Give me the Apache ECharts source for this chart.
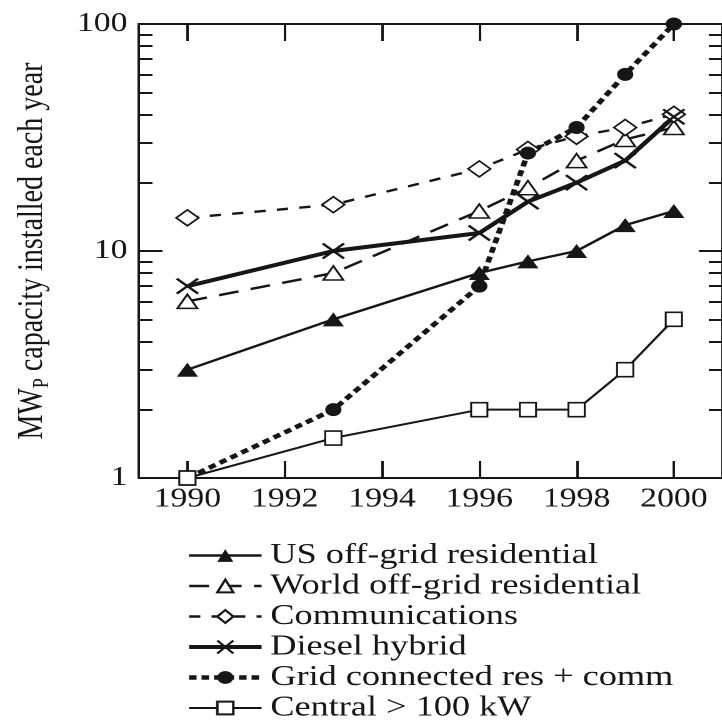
<!DOCTYPE html>
<html>
<head>
<meta charset="utf-8">
<script src="https://cdn.jsdelivr.net/npm/echarts@6/dist/echarts.min.js"></script>
<style>
  html, body { margin: 0; padding: 0; background: #fff; overflow: hidden; }
  /* the figure is set in a wide, horizontally stretched print style */
  #chart { width: 578px; height: 720px; transform: scaleX(1.25); transform-origin: 0 0; }
</style>
</head>
<body>
<div id="chart"></div>
<script>
// Annual PV capacity installed by market segment (MWp, log scale)
const years = [1990, 1993, 1996, 1997, 1998, 1999, 2000];
const usOffGrid      = [3, 5, 8, 9, 10, 13, 15];
const worldOffGrid   = [6, 8, 15, 19, 25, 31, 35];
const communications = [14, 16, 23, 28, 32, 35, 40];
const dieselHybrid   = [7, 10, 12, 16.5, 20, 25, 39];
const gridConnected  = [1, 2, 7, 27, 35, 60, 100];
const central        = [1, 1.5, 2, 2, 2, 3, 5];

const seriesNames = [
  'US off-grid residential',
  'World off-grid residential',
  'Communications',
  'Diesel hybrid',
  'Grid connected res + comm',
  'Central > 100 kW'
];

const xTickLabels = [1990, 1992, 1994, 1996, 1998, 2000];
const yMajorTicks = [1, 10, 100];
const yMinorTicks = [2, 3, 4, 5, 6, 7, 8, 9, 20, 30, 40, 50, 60, 70, 80, 90];

const ink = '#161616';
const serif = '"Liberation Serif", "Times New Roman", serif';

const pairs = vals => years.map((yr, i) => [yr, vals[i]]);

const chart = echarts.init(document.getElementById('chart'), null, { renderer: 'canvas', devicePixelRatio: 2 });

const frameLine = { show: true, lineStyle: { color: ink, width: 2 } };

function yAxisDef(position, ticks, len, showLine, withLabels) {
  return {
    type: 'log', logBase: 10, min: 1, max: 100, position: position,
    axisLine: showLine ? frameLine : { show: false },
    axisTick: { show: true, inside: true, length: len, customValues: ticks, lineStyle: { color: ink, width: 2 } },
    axisLabel: withLabels
      ? { show: true, customValues: ticks, formatter: v => String(v), fontFamily: serif, fontSize: 27, color: ink, margin: 9 }
      : { show: false },
    splitLine: { show: false },
    minorTick: { show: false }
  };
}

const yLeft = yAxisDef('left', yMajorTicks, 19, true, true);
yLeft.name = '{a|MW}{b|P}{a| capacity installed each year}';
yLeft.nameLocation = 'middle';
yLeft.nameRotate = 90;
yLeft.nameGap = 68;
yLeft.nameTextStyle = {
  rich: {
    a: { fontFamily: serif, fontSize: 28, color: ink, lineHeight: 34, verticalAlign: 'middle' },
    b: { fontFamily: serif, fontSize: 18, color: ink, lineHeight: 16, verticalAlign: 'bottom' }
  }
};

function xAxisDef(position, withLabels) {
  return {
    type: 'value', min: 1989, max: 2001, position: position,
    axisLine: frameLine,
    axisTick: { show: true, inside: true, length: 17, customValues: xTickLabels, lineStyle: { color: ink, width: 2 } },
    axisLabel: withLabels
      ? { show: true, customValues: xTickLabels, formatter: v => String(v), fontFamily: serif, fontSize: 27, color: ink, margin: 8 }
      : { show: false },
    splitLine: { show: false }
  };
}

const openMark = { color: '#ffffff', borderColor: ink, borderWidth: 1.6 };
const solidMark = { color: ink, borderColor: ink, borderWidth: 0 };

// line widths per series, shared by the plotted lines and their legend keys
const lineWidths = [2.4, 2.4, 2.4, 4, 4.5, 2];

chart.setOption({
  animation: false,
  backgroundColor: '#ffffff',
  grid: { left: 111, top: 24, width: 469, height: 454, containLabel: false },
  xAxis: [xAxisDef('bottom', true), xAxisDef('top', false)],
  yAxis: [
    yLeft,
    yAxisDef('left', yMinorTicks, 11, false, false),
    yAxisDef('right', yMajorTicks, 19, true, false),
    yAxisDef('right', yMinorTicks, 11, false, false)
  ],
  legend: {
    orient: 'vertical',
    left: 149,
    top: 541,
    height: 190,
    padding: 0,
    itemWidth: 58,
    itemHeight: 16,
    itemGap: 1.5,
    selectedMode: false,
    textStyle: { fontFamily: serif, fontSize: 29, color: ink, padding: [0, 0, 0, 2] },
    data: seriesNames.map((n, i) => ({ name: n, lineStyle: { width: lineWidths[i] } }))
  },
  series: [
    {
      name: seriesNames[0], type: 'line', data: pairs(usOffGrid),
      symbol: 'triangle', symbolSize: [17, 14],
      lineStyle: { color: ink, width: lineWidths[0], type: 'solid' },
      itemStyle: solidMark
    },
    {
      name: seriesNames[1], type: 'line', data: pairs(worldOffGrid),
      symbol: 'triangle', symbolSize: [16, 14],
      lineStyle: { color: ink, width: lineWidths[1], type: [16, 10] },
      itemStyle: openMark
    },
    {
      name: seriesNames[2], type: 'line', data: pairs(communications),
      symbol: 'diamond', symbolSize: [18, 16],
      lineStyle: { color: ink, width: lineWidths[2], type: [9, 9] },
      itemStyle: openMark
    },
    {
      name: seriesNames[3], type: 'line', data: pairs(dieselHybrid),
      symbol: 'path://M0,0L10,10M10,0L0,10', symbolSize: [17, 15],
      lineStyle: { color: ink, width: lineWidths[3], type: 'solid' },
      itemStyle: { color: 'transparent', borderColor: ink, borderWidth: 2.2 }
    },
    {
      name: seriesNames[4], type: 'line', data: pairs(gridConnected),
      symbol: 'circle', symbolSize: 13,
      lineStyle: { color: ink, width: lineWidths[4], type: [6, 4] },
      itemStyle: solidMark
    },
    {
      name: seriesNames[5], type: 'line', data: pairs(central),
      symbol: 'rect', symbolSize: [13, 14],
      lineStyle: { color: ink, width: lineWidths[5], type: 'solid' },
      itemStyle: openMark
    }
  ]
});
</script>
</body>
</html>
